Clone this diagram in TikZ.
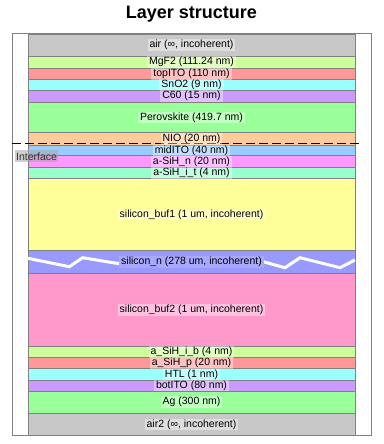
\documentclass[tikz,border=0pt]{standalone}
\usepackage{fontspec}
\setmainfont{Liberation Sans}
\definecolor{cair}{RGB}{200,200,200}
\definecolor{cmgf}{RGB}{204,255,153}
\definecolor{cito}{RGB}{255,153,153}
\definecolor{ccyan}{RGB}{153,255,255}
\definecolor{cpurp}{RGB}{204,153,255}
\definecolor{cgreen}{RGB}{153,255,153}
\definecolor{cpeach}{RGB}{255,204,153}
\definecolor{cblue}{RGB}{153,204,255}
\definecolor{cmag}{RGB}{255,153,255}
\definecolor{caqua}{RGB}{153,255,204}
\definecolor{cyel}{RGB}{255,255,153}
\definecolor{cperi}{RGB}{153,153,255}
\definecolor{cpink}{RGB}{255,153,204}
\begin{document}
\begin{tikzpicture}[x=1pt,y=-1pt,
  layerbox/.style={draw=gray, line width=0.8pt},
  laylabel/.style={font=\fontsize{10.5}{12}\selectfont, fill=white, fill opacity=0.4, text opacity=1, inner xsep=2pt, inner ysep=1pt},
  framebox/.style={draw=gray, line width=1pt},
  breakline/.style={draw=white, line width=3pt, line join=miter},
  ifline/.style={draw=black, line width=1.2pt, dash pattern=on 9pt off 4pt}]
\useasboundingbox (0,0) rectangle (383,444);
\node[font=\bfseries\fontsize{18}{20}\selectfont, anchor=base] (title) at (191.5,19) {Layer structure};
\draw[framebox] (12,34) rectangle (371,435.7);
% layers
\foreach \t/\b/\c in {34/56/cair,56/68.3/cmgf,68.3/79/cito,79/90/ccyan,90/102/cpurp,102/132.7/cgreen,132.7/145/cpeach,145/155.7/cblue,155.7/167/cmag,167/178.3/caqua,178.3/250.7/cyel,250.7/273.3/cperi,273.3/346/cpink,346/357.3/cmgf,357.3/368.7/cito,368.7/380/ccyan,380/391/cpurp,391/413/cgreen,413/435.7/cair}
  \filldraw[layerbox, fill=\c] (28,\t) rectangle (355,\b);
% break line in silicon_n
\draw[breakline] (28,258.3) -- (69.3,266.7) -- (82.7,257.7) -- (116.7,263.3) -- (263.3,261.7) -- (285,267.7) -- (300,257.7) -- (340,267.7) -- (355,260);
% interface
\draw[ifline] (12,143.7) -- (362,143.7);
% labels
\node[laylabel] (air) at (191.5,45) {air (∞, incoherent)};
\node[laylabel] (mgf2) at (191.5,62.2) {MgF2 (111.24 nm)};
\node[laylabel] (topito) at (191.5,73.7) {topITO (110 nm)};
\node[laylabel] (sno2) at (191.5,84.5) {SnO2 (9 nm)};
\node[laylabel] (c60) at (191.5,96) {C60 (15 nm)};
\node[laylabel] (pero) at (191.5,117.4) {Perovskite (419.7 nm)};
\node[laylabel] (nio) at (191.5,138.9) {NIO (20 nm)};
\node[laylabel] (midito) at (191.5,150.4) {midITO (40 nm)};
\node[laylabel] (asihn) at (191.5,161.4) {a-SiH\_n (20 nm)};
\node[laylabel] (asihit) at (191.5,172.7) {a-SiH\_i\_t (4 nm)};
\node[laylabel] (buf1) at (191.5,214.5) {silicon\_buf1 (1 um, incoherent)};
\node[laylabel, fill=cperi!85!white, fill opacity=1] (sin) at (191.5,262) {silicon\_n (278 um, incoherent)};
\node[laylabel] (buf2) at (191.5,309.7) {silicon\_buf2 (1 um, incoherent)};
\node[laylabel] (asihib) at (191.5,351.7) {a\_SiH\_i\_b (4 nm)};
\node[laylabel] (asihp) at (191.5,363) {a\_SiH\_p (20 nm)};
\node[laylabel] (htl) at (191.5,374.4) {HTL (1 nm)};
\node[laylabel] (botito) at (191.5,385.5) {botITO (80 nm)};
\node[laylabel] (ag) at (191.5,402) {Ag (300 nm)};
\node[laylabel] (air2) at (191.5,424.4) {air2 (∞, incoherent)};
\node[font=\fontsize{10.5}{12}\selectfont, fill=gray!70, fill opacity=0.55, text opacity=1, text=black!80, inner xsep=1pt, inner ysep=2pt, anchor=west] (iface) at (15,156.3) {Interface};
\end{tikzpicture}
\end{document}
